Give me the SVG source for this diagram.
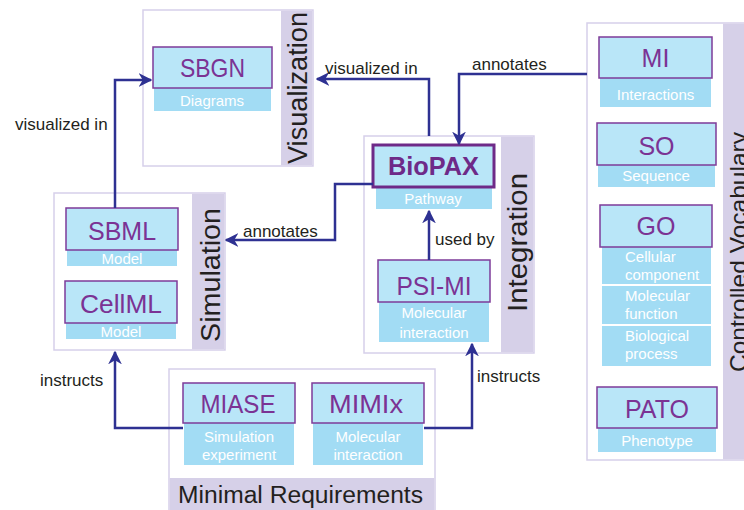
<svg xmlns="http://www.w3.org/2000/svg" width="744" height="510" viewBox="0 0 744 510">
<style>
.panel{fill:#fff;stroke:#d6d0ea;stroke-width:1.5}
.side{fill:#d6d0e8}
.box{fill:#b9e6f8;stroke:#7e3b99;stroke-width:1.5}
.band{fill:#a2dcf4}
.title{font-family:"Liberation Sans",Arial,sans-serif;font-size:25px;fill:#7b3394;text-anchor:middle}
.sub{font-family:"Liberation Sans",Arial,sans-serif;font-size:15px;fill:#ffffff;text-anchor:middle}
.lab{font-family:"Liberation Sans",Arial,sans-serif;font-size:17px;fill:#231f20}
.side-t{font-family:"Liberation Sans",Arial,sans-serif;font-size:27px;fill:#231f20}
.conn{fill:none;stroke:#2e3192;stroke-width:2.5}
</style>
<defs>
<marker id="arr" viewBox="0 0 10 10" refX="9" refY="5" markerWidth="5.5" markerHeight="5.5" orient="auto" markerUnits="strokeWidth">
<path d="M0,0 L10,5 L0,10 L3,5 z" fill="#2e3192"/>
</marker>
</defs>

<!-- Panels -->
<g id="panel-visualization">
<rect class="panel" x="143" y="10" width="170" height="156"/>
<rect class="side" x="281" y="10.75" width="31.25" height="154.5"/>
<text class="side-t" transform="translate(307,164) rotate(-90)" textLength="152" lengthAdjust="spacingAndGlyphs">Visualization</text>
</g>
<g id="panel-simulation">
<rect class="panel" x="54" y="193" width="171" height="157"/>
<rect class="side" x="192" y="193.75" width="32.25" height="155.5"/>
<text class="side-t" transform="translate(220,342) rotate(-90)" textLength="134" lengthAdjust="spacingAndGlyphs">Simulation</text>
</g>
<g id="panel-integration">
<rect class="panel" x="364" y="136" width="170" height="217"/>
<rect class="side" x="501" y="136.75" width="32.25" height="215.5"/>
<text class="side-t" transform="translate(527,312) rotate(-90)" textLength="139" lengthAdjust="spacingAndGlyphs">Integration</text>
</g>
<g id="panel-minimal">
<rect class="panel" x="169" y="369" width="266" height="145"/>
<rect class="side" x="169.75" y="478" width="264.5" height="34"/>
<text class="side-t" x="178" y="503" style="font-size:23px" textLength="245" lengthAdjust="spacingAndGlyphs">Minimal Requirements</text>
</g>
<g id="panel-cv">
<rect class="panel" x="587" y="23" width="165" height="437"/>
<rect class="side" x="723" y="23.75" width="28" height="435.5"/>
<text class="side-t" transform="translate(747,372) rotate(-90)" style="font-size:24px" textLength="240" lengthAdjust="spacingAndGlyphs">Controlled Vocabulary</text>
</g>

<!-- Nodes -->
<g id="sbgn">
<rect class="band" x="154" y="88" width="117" height="23"/>
<rect class="box" x="153" y="47" width="119" height="41"/>
<text class="title" x="212.5" y="77" textLength="65" lengthAdjust="spacingAndGlyphs">SBGN</text>
<text class="sub" x="212" y="106">Diagrams</text>
</g>
<g id="sbml">
<rect class="band" x="67" y="250" width="110" height="16"/>
<rect class="box" x="66" y="208" width="112" height="42"/>
<text class="title" x="122" y="240">SBML</text>
<text class="sub" x="122" y="264">Model</text>
</g>
<g id="cellml">
<rect class="band" x="66" y="323" width="110" height="16"/>
<rect class="box" x="65" y="281" width="112" height="42"/>
<text class="title" x="121" y="313" textLength="82" lengthAdjust="spacingAndGlyphs">CellML</text>
<text class="sub" x="121" y="337">Model</text>
</g>
<g id="biopax">
<rect class="band" x="376" y="187" width="116" height="22"/>
<rect class="box" x="373" y="145" width="121" height="42" style="stroke-width:3;stroke:#6e2a88"/>
<text class="title" x="433.5" y="175" style="font-weight:bold;fill:#6e2a88" textLength="91" lengthAdjust="spacingAndGlyphs">BioPAX</text>
<text class="sub" x="433" y="204">Pathway</text>
</g>
<g id="psimi">
<rect class="band" x="379" y="302" width="110" height="40"/>
<rect class="box" x="378" y="260" width="112" height="42"/>
<text class="title" x="434" y="295" textLength="75" lengthAdjust="spacingAndGlyphs">PSI-MI</text>
<text class="sub" x="434" y="318">Molecular</text>
<text class="sub" x="434" y="338">interaction</text>
</g>
<g id="miase">
<rect class="band" x="184" y="423" width="110" height="42"/>
<rect class="box" x="183" y="383" width="112" height="40"/>
<text class="title" x="238" y="413" textLength="75" lengthAdjust="spacingAndGlyphs">MIASE</text>
<text class="sub" x="239" y="442">Simulation</text>
<text class="sub" x="239" y="460">experiment</text>
</g>
<g id="mimix">
<rect class="band" x="313" y="423" width="110" height="42"/>
<rect class="box" x="312" y="383" width="112" height="40"/>
<text class="title" x="366" y="413" textLength="74" lengthAdjust="spacingAndGlyphs">MIMIx</text>
<text class="sub" x="368" y="442">Molecular</text>
<text class="sub" x="368" y="460">interaction</text>
</g>
<g id="mi">
<rect class="band" x="600" y="78" width="111" height="29"/>
<rect class="box" x="599" y="37" width="113" height="41"/>
<text class="title" x="655.5" y="67">MI</text>
<text class="sub" x="655.5" y="100">Interactions</text>
</g>
<g id="so">
<rect class="band" x="598" y="165" width="117" height="22"/>
<rect class="box" x="597" y="123" width="119" height="42"/>
<text class="title" x="656.5" y="155">SO</text>
<text class="sub" x="656" y="181">Sequence</text>
</g>
<g id="go">
<rect class="band" x="602" y="247" width="109" height="37"/>
<rect class="band" x="602" y="286" width="109" height="38"/>
<rect class="band" x="602" y="326" width="109" height="40"/>
<rect class="box" x="600" y="205" width="112" height="42"/>
<text class="title" x="656" y="235">GO</text>
<text class="sub" x="625" y="262" style="text-anchor:start">Cellular</text>
<text class="sub" x="625" y="280" style="text-anchor:start">component</text>
<text class="sub" x="625" y="301" style="text-anchor:start">Molecular</text>
<text class="sub" x="625" y="319" style="text-anchor:start">function</text>
<text class="sub" x="625" y="341" style="text-anchor:start">Biological</text>
<text class="sub" x="625" y="359" style="text-anchor:start">process</text>
</g>
<g id="pato">
<rect class="band" x="598" y="428" width="118" height="24"/>
<rect class="box" x="597" y="387" width="120" height="41"/>
<text class="title" x="657" y="418">PATO</text>
<text class="sub" x="657" y="446">Phenotype</text>
</g>

<!-- Connectors -->
<g id="connectors">
<path class="conn" d="M115,208 V80 H151" marker-end="url(#arr)"/>
<path class="conn" d="M429,136 V79 H317" marker-end="url(#arr)"/>
<path class="conn" d="M587,74 H459 V144" marker-end="url(#arr)"/>
<path class="conn" d="M373,184 H335 V240 H226" marker-end="url(#arr)"/>
<path class="conn" d="M429,260 V211" marker-end="url(#arr)"/>
<path class="conn" d="M183,428 H115 V352" marker-end="url(#arr)"/>
<path class="conn" d="M424,428 H472 V344" marker-end="url(#arr)"/>
<text class="lab" x="15" y="130">visualized in</text>
<text class="lab" x="325" y="74">visualized in</text>
<text class="lab" x="472" y="70">annotates</text>
<text class="lab" x="243" y="237">annotates</text>
<text class="lab" x="435" y="245">used by</text>
<text class="lab" x="40" y="386">instructs</text>
<text class="lab" x="477" y="382">instructs</text>
</g>
</svg>
